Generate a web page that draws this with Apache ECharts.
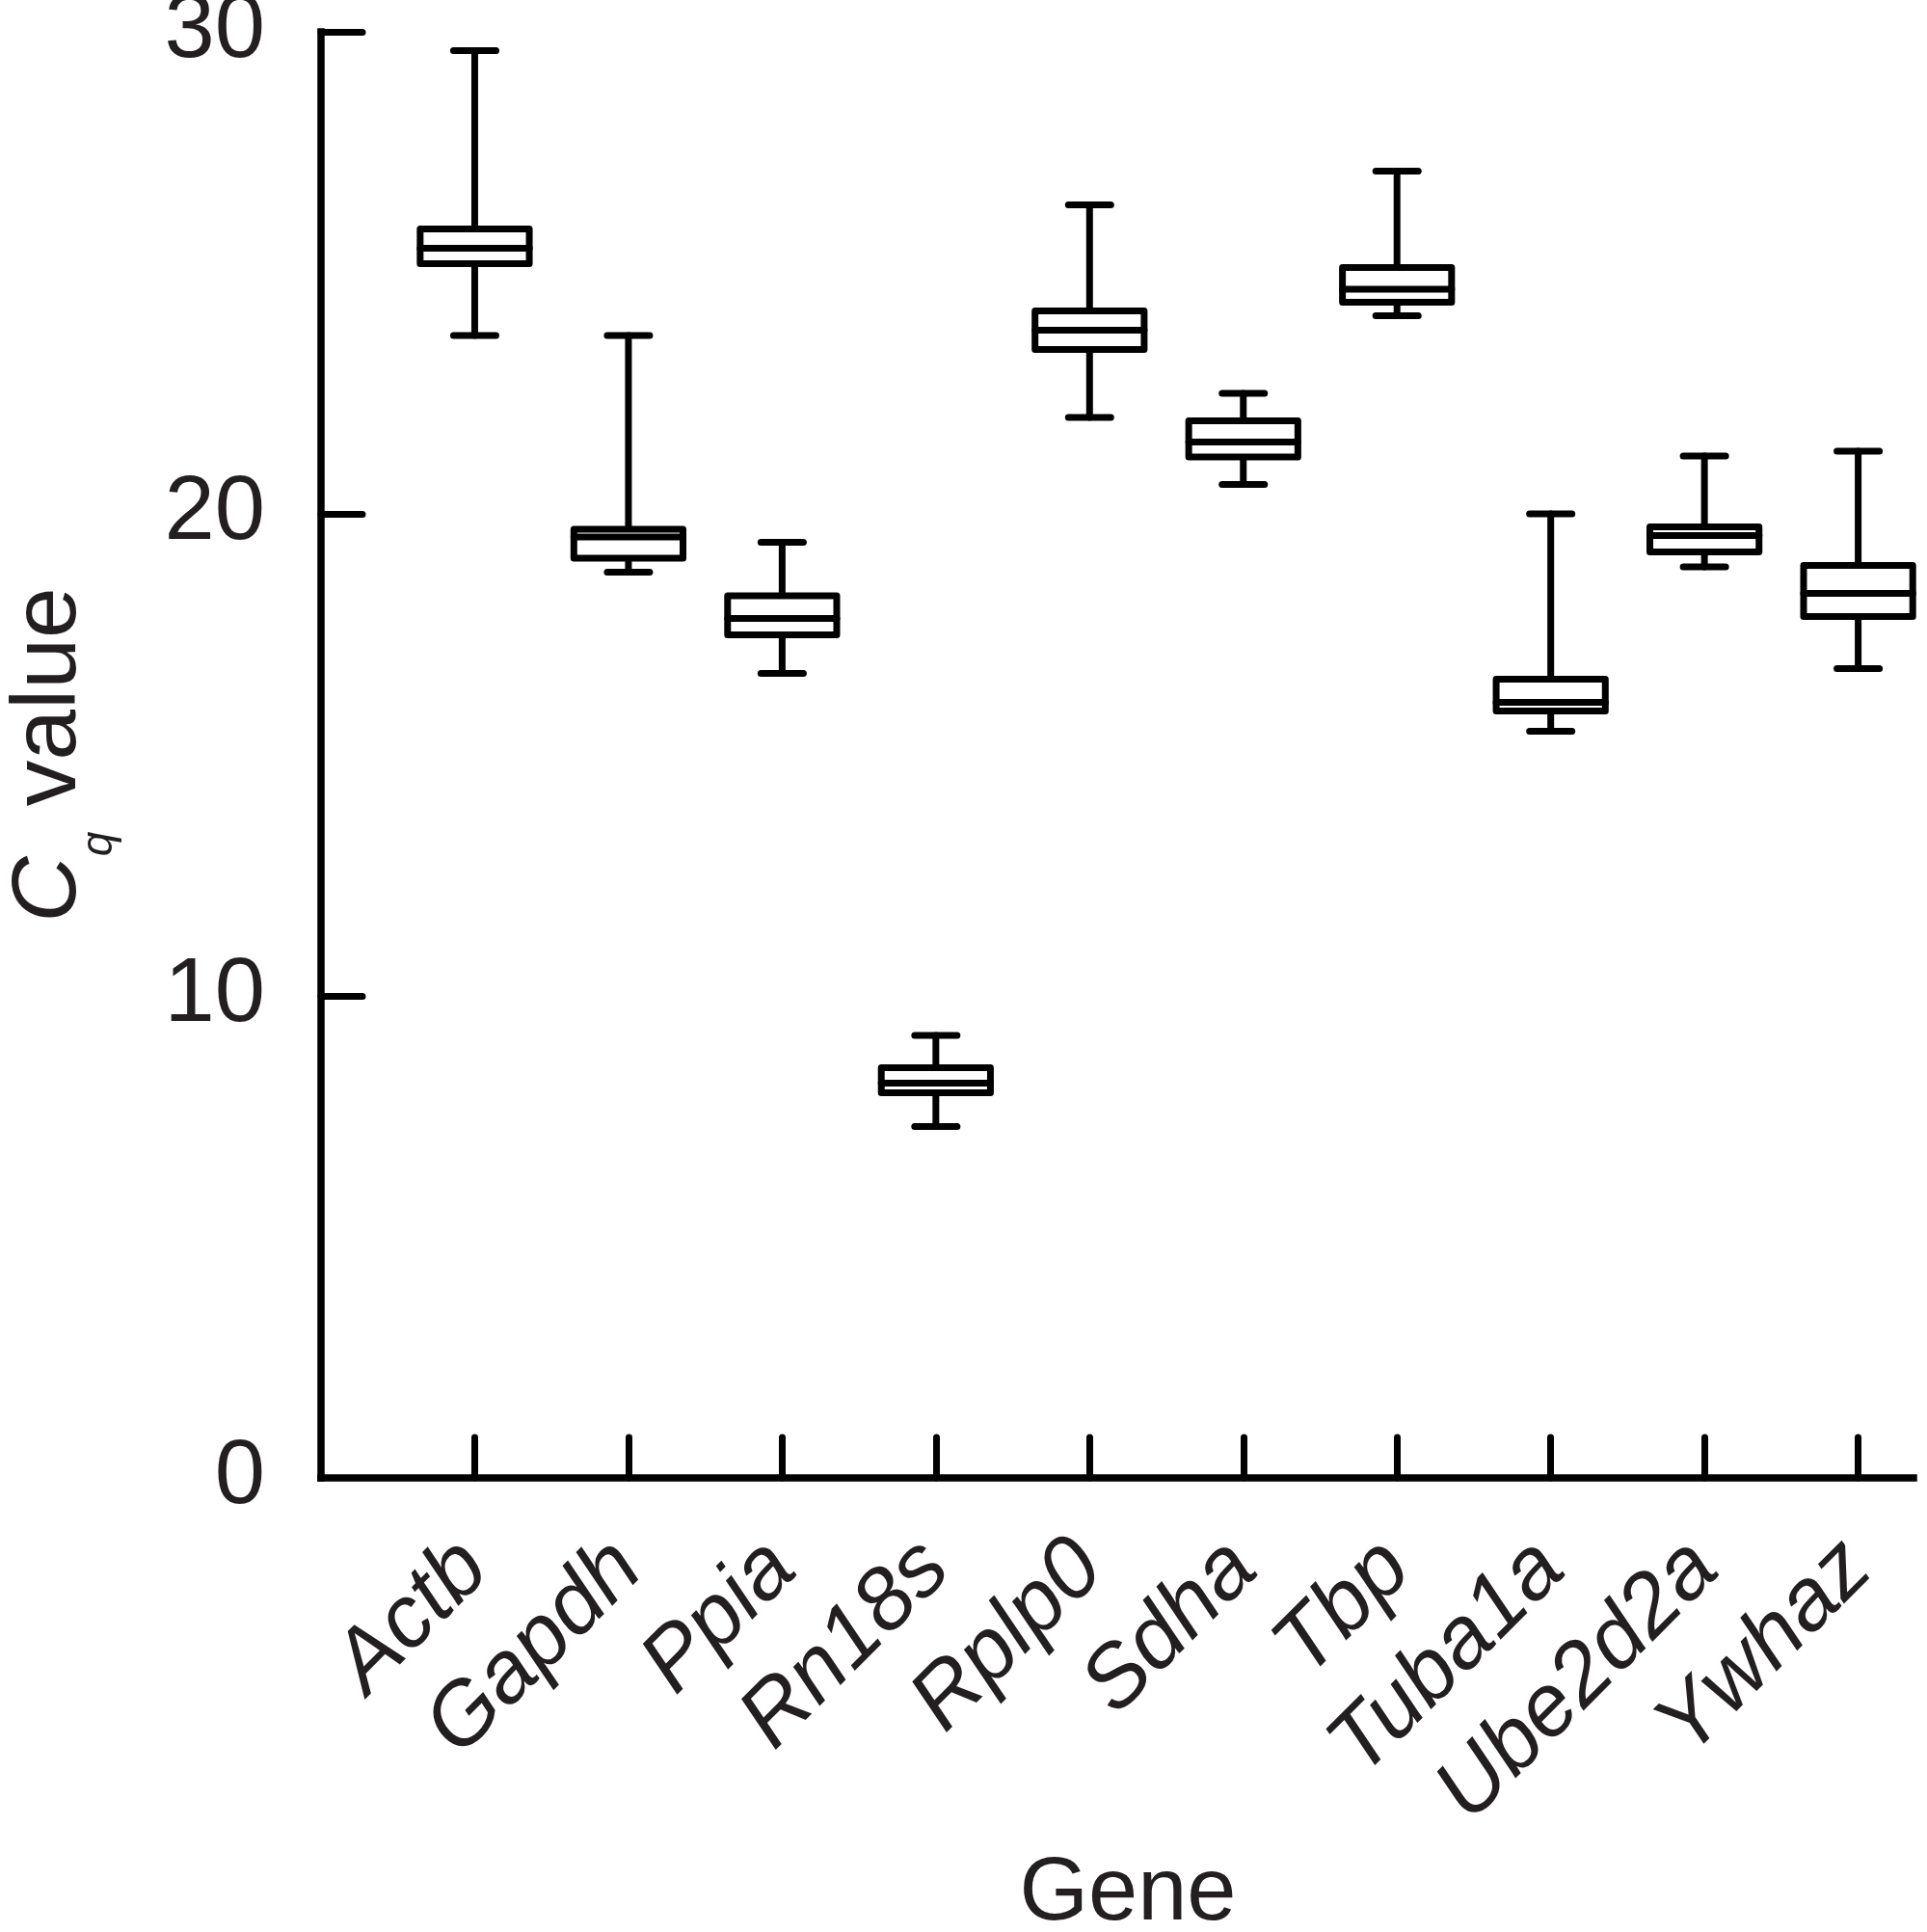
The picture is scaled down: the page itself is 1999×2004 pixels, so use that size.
<html>
<head>
<meta charset="utf-8">
<script src="https://cdn.jsdelivr.net/npm/echarts@6/dist/echarts.min.js"></script>
<style>
  html, body { margin: 0; padding: 0; background: #fff; }
  #container { width: 1999px; height: 2004px; }
</style>
</head>
<body>
<div id="container"></div>
<script>
  // genes along the x axis
  const genes = ['Actb', 'Gapdh', 'Ppia', 'Rn18s', 'Rplp0', 'Sdha', 'Tbp', 'Tuba1a', 'Ube2d2a', 'Ywhaz'];

  // box plot values (Cq)
  const minVals = [23.70, 18.79, 16.69, 7.29, 22.00, 20.61, 24.11, 15.49, 18.90, 16.79];
  const q1Vals  = [25.19, 19.08, 17.49, 7.99, 23.41, 21.18, 24.39, 15.91, 19.21, 17.87];
  const medVals = [25.51, 19.52, 17.83, 8.19, 23.81, 21.49, 24.66, 16.09, 19.55, 18.35];
  const q3Vals  = [25.91, 19.68, 18.30, 8.51, 24.21, 21.93, 25.11, 16.57, 19.73, 18.93];
  const maxVals = [29.61, 23.70, 19.41, 9.18, 26.41, 22.50, 27.11, 20.00, 21.20, 21.30];

  const yTicks = [0, 10, 20, 30];

  const FONT = 'Liberation Sans, Arial, Helvetica, sans-serif';
  const INK = '#231f20';
  const LW = 7;

  function buildData() {
    let rows = [];
    genes.forEach((g, i) => {
      rows.push([i + 1, minVals[i], q1Vals[i], medVals[i], q3Vals[i], maxVals[i]]);
    });
    return rows;
  }

  function renderBox(params, api) {
    const x = api.value(0);
    const unit = api.size([1, 0])[0];
    const half = unit * 0.355;
    const capHalf = unit * 0.138;
    const pMin = api.coord([x, api.value(1)]);
    const pQ1 = api.coord([x, api.value(2)]);
    const pMed = api.coord([x, api.value(3)]);
    const pQ3 = api.coord([x, api.value(4)]);
    const pMax = api.coord([x, api.value(5)]);
    const cx = pMed[0];
    const line = { stroke: '#000', lineWidth: LW, lineCap: 'round', lineJoin: 'round' };
    return {
      type: 'group',
      children: [
        { type: 'line', shape: { x1: cx, y1: pQ3[1], x2: cx, y2: pMax[1] }, style: line },
        { type: 'line', shape: { x1: cx, y1: pQ1[1], x2: cx, y2: pMin[1] }, style: line },
        { type: 'line', shape: { x1: cx - capHalf, y1: pMax[1], x2: cx + capHalf, y2: pMax[1] }, style: line },
        { type: 'line', shape: { x1: cx - capHalf, y1: pMin[1], x2: cx + capHalf, y2: pMin[1] }, style: line },
        { type: 'rect', shape: { x: cx - half, y: pQ3[1], width: half * 2, height: pQ1[1] - pQ3[1] },
          style: { fill: '#fff', stroke: '#000', lineWidth: LW, lineJoin: 'round' } },
        { type: 'line', shape: { x1: cx - half, y1: pMed[1], x2: cx + half, y2: pMed[1] }, style: line }
      ]
    };
  }

  function renderChart() {
    let mychart = echarts.init(document.getElementById('container'));

    const axisLine = { show: true, lineStyle: { color: '#000', width: 7.5, cap: 'square' } };

    var option = {
      animation: false,
      backgroundColor: '#fff',
      grid: { left: 333, right: 14, top: 33, bottom: 471, containLabel: false, outerBoundsMode: 'none' },
      xAxis: {
        type: 'value',
        min: 0,
        max: 10.36,
        interval: 1,
        splitLine: { show: false },
        axisLine,
        axisTick: {
          show: true, inside: true, length: 42, customValues: genes.map((g, i) => i + 1),
          lineStyle: { color: '#000', width: LW, cap: 'round' }
        },
        axisLabel: {
          customValues: genes.map((g, i) => i + 1),
          formatter: v => genes[Math.round(v) - 1] || '',
          rotate: 45,
          margin: 80,
          fontSize: 91,
          fontStyle: 'italic',
          fontFamily: FONT,
          color: INK
        },
        name: 'Gene',
        nameLocation: 'middle',
        nameGap: 387,
        nameTextStyle: { fontSize: 92, lineHeight: 92, fontFamily: FONT, color: INK, padding: [0, 0, 0, 22] }
      },
      yAxis: {
        type: 'value',
        min: 0,
        max: 30,
        interval: 10,
        splitLine: { show: false },
        axisLine,
        axisTick: {
          show: true, inside: true, length: 43, customValues: yTicks.slice(1),
          lineStyle: { color: '#000', width: LW, cap: 'round' }
        },
        axisLabel: {
          customValues: yTicks,
          margin: 58,
          fontSize: 94,
          fontFamily: FONT,
          color: INK,
          padding: [10, 0, 0, 0]
        },
        name: '{c|C}{q|q}{v| value}',
        nameLocation: 'middle',
        nameGap: 234,
        nameTextStyle: {
          rich: {
            c: { fontSize: 95, lineHeight: 95, verticalAlign: 'top', fontStyle: 'italic', fontFamily: FONT, color: INK },
            q: { fontSize: 46, lineHeight: 46, verticalAlign: 'top', fontStyle: 'italic', fontFamily: FONT, color: INK, padding: [76, 0, 0, 0] },
            v: { fontSize: 95, lineHeight: 95, verticalAlign: 'top', fontFamily: FONT, color: INK }
          }
        }
      },
      series: [
        {
          type: 'custom',
          name: 'Cq',
          renderItem: renderBox,
          encode: { x: 0, y: [1, 2, 3, 4, 5] },
          data: buildData(),
          clip: false
        }
      ]
    };

    mychart.setOption(option);
  }

  renderChart();
</script>
</body>
</html>
